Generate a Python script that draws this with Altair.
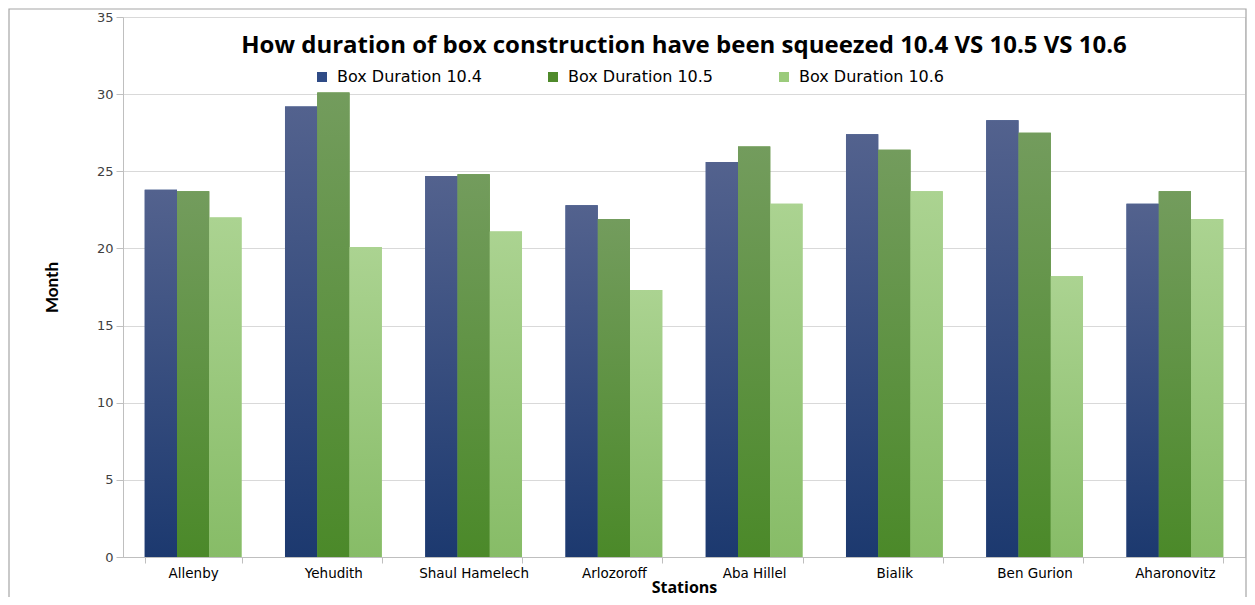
import altair as alt
import pandas as pd

stations = ["Allenby", "Yehudith", "Shaul Hamelech", "Arlozoroff",
            "Aba Hillel", "Bialik", "Ben Gurion", "Aharonovitz"]
series = ["Box Duration 10.4", "Box Duration 10.5", "Box Duration 10.6"]
dur_104 = [23.8, 29.2, 24.7, 22.8, 25.6, 27.4, 28.3, 22.9]
dur_105 = [23.7, 30.1, 24.8, 21.9, 26.6, 26.4, 27.5, 23.7]
dur_106 = [22.0, 20.1, 21.1, 17.3, 22.9, 23.7, 18.2, 21.9]
y_ticks = [0, 5, 10, 15, 20, 25, 30, 35]

title_text = "How duration of box construction have been squeezed  10.4 VS 10.5 VS 10.6"

rows = []
for s, vals in zip(series, [dur_104, dur_105, dur_106]):
    for st, v in zip(stations, vals):
        rows.append({"station": st, "series": s, "value": v})
df = pd.DataFrame(rows)

legend_colors = ["#2f4b86", "#4f8a2b", "#9bcb7b"]
gradients = [("#53628e", "#1c396f"), ("#739c5d", "#4b8929"), ("#abd391", "#87bc67")]

x_enc = alt.X(
    "station:N", sort=stations,
    scale=alt.Scale(domain=stations, paddingInner=0.31, paddingOuter=0.155),
    axis=alt.Axis(title="Stations", labelAngle=0, tickBand="extent",
                  labelFont="DejaVu Sans", labelFontSize=13.5,
                  labelColor="#000000", labelPadding=3,
                  tickColor="#bfbfbf", tickSize=6, domainColor="#bfbfbf",
                  titleFont="Open Sans", titleFontSize=16, titleFontWeight="bold",
                  titleColor="#000000", titlePadding=0, grid=False),
)
xoff = alt.XOffset("series:N", scale=alt.Scale(domain=series))
y_enc = alt.Y(
    "value:Q",
    scale=alt.Scale(domain=[0, 35], nice=False),
    axis=alt.Axis(values=y_ticks, title="Month",
                  labelFont="DejaVu Sans", labelFontSize=13, labelColor="#404040",
                  labelPadding=3, tickColor="#bfbfbf", tickSize=7,
                  domainColor="#bfbfbf", gridColor="#d9d9d9",
                  titleFont="Lato", titleFontSize=17,
                  titleFontWeight="bold", titleColor="#000000", titlePadding=35),
)

base = alt.Chart(df)

legend_layer = base.mark_bar().encode(
    x=x_enc, xOffset=xoff, y=y_enc,
    color=alt.Color(
        "series:N",
        scale=alt.Scale(domain=series, range=legend_colors),
        legend=alt.Legend(
            title=None, orient="none", legendX=191, legendY=52,
            direction="horizontal", symbolType="square", symbolSize=100,
            symbolStrokeWidth=0, labelFont="DejaVu Sans", labelFontSize=16,
            labelColor="#000000", columnPadding=62, labelOffset=7,
        ),
    ),
)

layers = [legend_layer]
for s, (top, bot) in zip(series, gradients):
    layers.append(
        base.transform_filter(alt.datum.series == s).mark_bar(
            color=alt.Gradient(
                gradient="linear", x1=0, x2=0, y1=0, y2=1,
                stops=[alt.GradientStop(color=top, offset=0),
                       alt.GradientStop(color=bot, offset=1)],
            )
        ).encode(x=x_enc, xOffset=xoff, y=y_enc)
    )

# light outer frame around the whole chart
frame = alt.Chart(pd.DataFrame({"f": [0]})).mark_rect(
    filled=False, stroke="#a6a6a6", strokeWidth=1.2
).encode(x=alt.value(-114), x2=alt.value(1123), y=alt.value(-8), y2=alt.value(620))
layers.append(frame)

chart = alt.layer(*layers).properties(
    width=1122, height=540,
    autosize=alt.AutoSizeParams(type="none"),
    padding={"left": 115, "top": 9, "right": 2, "bottom": 40},
    title=alt.TitleParams(
        text=title_text, font="Open Sans", fontSize=24, fontWeight="bold",
        color="#000000", anchor="middle", offset=-50,
    ),
).configure_view(strokeWidth=0).configure(background="white")

chart.save("out.html", embed_options={"renderer": "svg", "actions": False})
